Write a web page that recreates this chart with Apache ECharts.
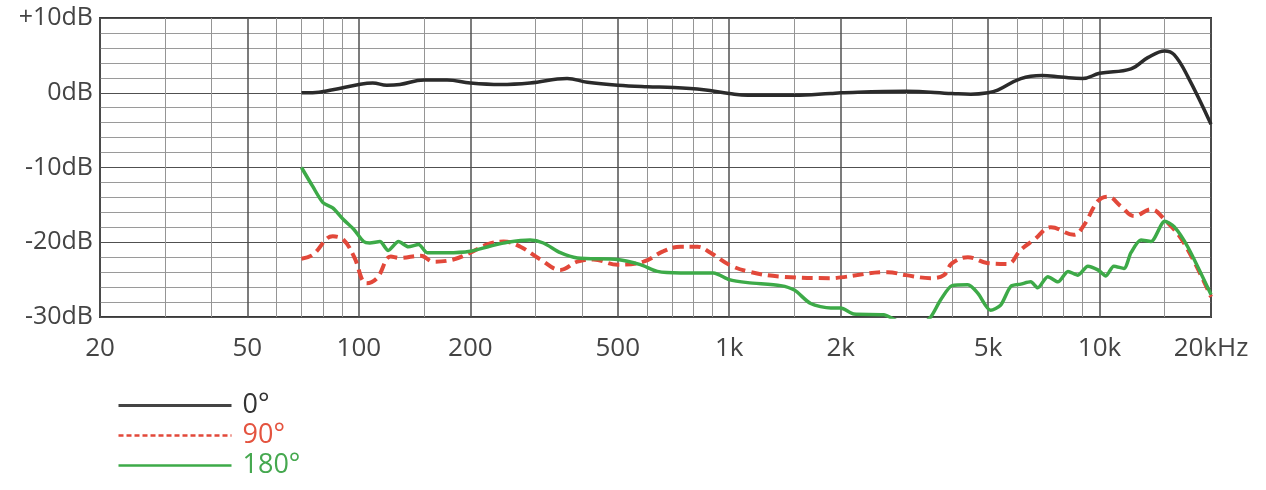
<!DOCTYPE html>
<html>
<head>
<meta charset="utf-8">
<script src="https://cdn.jsdelivr.net/npm/echarts@6/dist/echarts.min.js"></script>
<style>
  html, body { margin: 0; padding: 0; background: #fff; }
  #chart { width: 1266px; height: 490px; }
</style>
</head>
<body>
<div id="chart"></div>
<script>
// ---- Data (frequency in Hz, level in dB) ----
const seriesNames = ['0°', '90°', '180°'];

const freq0 = [70, 75, 85, 100, 109, 119, 129, 150, 173, 200, 241, 290, 365, 414, 500, 601, 708, 853, 1000, 1122, 1500, 1880, 2000, 3000, 4000, 4490, 5000, 5310, 6130, 7000, 7870, 9000, 10000, 12160, 13500, 15000, 15900, 17300, 20000];
const db0   = [0, 0, 0.4, 1.1, 1.3, 1.0, 1.1, 1.7, 1.7, 1.3, 1.1, 1.3, 1.9, 1.4, 1.0, 0.8, 0.7, 0.4, -0.1, -0.35, -0.35, -0.1, 0, 0.2, -0.1, -0.2, 0, 0.35, 1.9, 2.3, 2.1, 1.9, 2.6, 3.2, 4.7, 5.6, 5.1, 2.2, -4.2];

const freq90 = [70, 75, 85, 91, 97, 105, 112, 122, 129, 147, 159, 180, 200, 222, 246, 273, 309, 350, 389, 430, 500, 587, 665, 739, 821, 890, 1000, 1122, 1377, 1880, 2000, 2680, 3000, 3500, 3800, 4000, 4410, 5000, 5650, 6130, 6650, 7390, 8530, 9080, 9900, 10530, 11430, 12400, 13770, 15000, 16900, 20000];
const db90   = [-22.2, -21.7, -19.2, -19.7, -21.9, -25.5, -24.8, -21.9, -22.1, -21.8, -22.6, -22.3, -21.4, -20.3, -19.9, -20.6, -22.3, -23.7, -22.6, -22.3, -23.0, -22.6, -21.2, -20.6, -20.6, -21.4, -23.0, -23.9, -24.6, -24.8, -24.7, -24.0, -24.4, -24.8, -24.4, -22.8, -22.0, -22.8, -22.9, -21.0, -19.7, -18.0, -19.0, -17.7, -14.5, -13.9, -15.2, -16.5, -15.6, -17.0, -20.1, -27.3];

const freq180 = [70, 75, 80, 85, 91, 97, 103, 107, 114, 120, 128, 136, 145, 153, 173, 200, 227, 252, 290, 315, 350, 389, 500, 576, 640, 739, 907, 1000, 1122, 1377, 1500, 1660, 1880, 2000, 2170, 2615, 3000, 3290, 3500, 3725, 4000, 4410, 4690, 5080, 5410, 5760, 6130, 6520, 6810, 7250, 7720, 8220, 8740, 9300, 9900, 10400, 10930, 11640, 12160, 12940, 13770, 15000, 15900, 17300, 20000];
const db180   = [-10.0, -12.5, -14.7, -15.4, -17.0, -18.3, -19.9, -20.1, -19.9, -21.1, -19.9, -20.6, -20.3, -21.4, -21.4, -21.2, -20.5, -20.0, -19.7, -20.1, -21.4, -22.1, -22.3, -23.0, -23.9, -24.1, -24.1, -25.0, -25.4, -25.8, -26.4, -28.2, -28.8, -28.8, -29.6, -29.7, -31.0, -31.0, -30.0, -27.7, -25.8, -25.7, -26.8, -29.1, -28.4, -25.9, -25.6, -25.3, -26.1, -24.6, -25.3, -23.9, -24.4, -23.2, -23.7, -24.5, -23.2, -23.5, -21.4, -19.7, -19.9, -17.2, -17.9, -20.6, -27.0];

// ---- Axis ticks ----
const xMajorFreqs  = [20, 50, 100, 200, 500, 1000, 2000, 5000, 10000, 20000];
const xMajorLabels = ['20', '50', '100', '200', '500', '1k', '2k', '5k', '10k', '20kHz'];
const xMinorFreqs  = [30, 40, 60, 70, 80, 90, 150, 300, 400, 600, 700, 800, 900, 1500, 3000, 4000, 6000, 7000, 8000, 9000, 15000];
const yMin = -30, yMax = 10, yStep = 2;
const yLabelValues = [-30, -20, -10, 0, 10];

// ---- Build ----
const lg = Math.log10;
const toPts = (f, d) => f.map((v, i) => [lg(v), d[i]]);
const xMin = lg(20), xMax = lg(20000);
const majorVals = xMajorFreqs.map(lg);
const minorVals = xMinorFreqs.map(lg);

const colBlack = '#2b2b2b', colRed = '#e2483a', colGreen = '#3daa48';
const FONT = 'Open Sans';

const chart = echarts.init(document.getElementById('chart'), null, { renderer: 'canvas' });
chart.setOption({
  animation: false,
  backgroundColor: '#fff',
  grid: {
    left: 100, top: 18, width: 1111, height: 299,
    show: true, borderColor: '#3a3a3a', borderWidth: 2, backgroundColor: '#fff'
  },
  xAxis: [
    {
      type: 'value', min: xMin, max: xMax, position: 'bottom',
      axisLine: { show: false },
      axisTick: { show: false, customValues: majorVals },
      splitLine: { show: true, lineStyle: { color: '#505050', width: 1.5 } },
      axisLabel: {
        customValues: majorVals, margin: 19,
        fontFamily: FONT, fontSize: 26, color: '#444',
        formatter: v => {
          const i = majorVals.findIndex(m => Math.abs(m - v) < 1e-6);
          return i >= 0 ? xMajorLabels[i] : '';
        }
      }
    },
    {
      type: 'value', min: xMin, max: xMax, position: 'top',
      axisLine: { show: false },
      axisTick: { show: false, customValues: minorVals },
      axisLabel: { show: false },
      splitLine: { show: true, lineStyle: { color: '#959595', width: 1 } }
    }
  ],
  yAxis: {
    type: 'value', min: yMin, max: yMax, interval: yStep,
    axisLine: { show: false }, axisTick: { show: false },
    splitLine: { show: true, lineStyle: { color: ['#505050', '#9a9a9a', '#9a9a9a', '#9a9a9a', '#9a9a9a'], width: 1.2 } },
    axisLabel: {
      margin: 7, fontFamily: FONT, fontSize: 25, color: '#444',
      formatter: v => yLabelValues.includes(v) ? (v > 0 ? '+' : '') + v + 'dB' : ''
    }
  },
  legend: {
    orient: 'vertical', left: 117, top: 391, padding: 0, height: 98,
    itemWidth: 113, itemHeight: 14, itemGap: 1,
    selectedMode: false,
    itemStyle: { opacity: 0 },
    textStyle: { fontFamily: FONT, fontSize: 27, lineHeight: 27, padding: [0, 0, 2, 6] },
    data: [
      { name: seriesNames[0], textStyle: { color: '#333' }, itemStyle: { opacity: 0 }, lineStyle: { width: 3, color: '#444' } },
      { name: seriesNames[1], textStyle: { color: '#e4533f' }, itemStyle: { opacity: 0 }, lineStyle: { width: 2.5, type: [5, 3] } },
      { name: seriesNames[2], textStyle: { color: '#45a84f' }, itemStyle: { opacity: 0 }, lineStyle: { width: 2.5 } }
    ]
  },
  series: [
    {
      name: seriesNames[0], type: 'line', xAxisIndex: 0, data: toPts(freq0, db0),
      symbol: 'none', smooth: 0.4, clip: true,
      lineStyle: { color: colBlack, width: 3.5 }, itemStyle: { color: colBlack }
    },
    {
      name: seriesNames[1], type: 'line', xAxisIndex: 0, data: toPts(freq90, db90),
      symbol: 'none', smooth: 0.4, clip: true,
      lineStyle: { color: colRed, width: 4, type: [11, 6] }, itemStyle: { color: colRed }
    },
    {
      name: seriesNames[2], type: 'line', xAxisIndex: 0, data: toPts(freq180, db180),
      symbol: 'none', smooth: 0.25, clip: true,
      lineStyle: { color: colGreen, width: 3.5 }, itemStyle: { color: colGreen }
    }
  ]
});
</script>
</body>
</html>
